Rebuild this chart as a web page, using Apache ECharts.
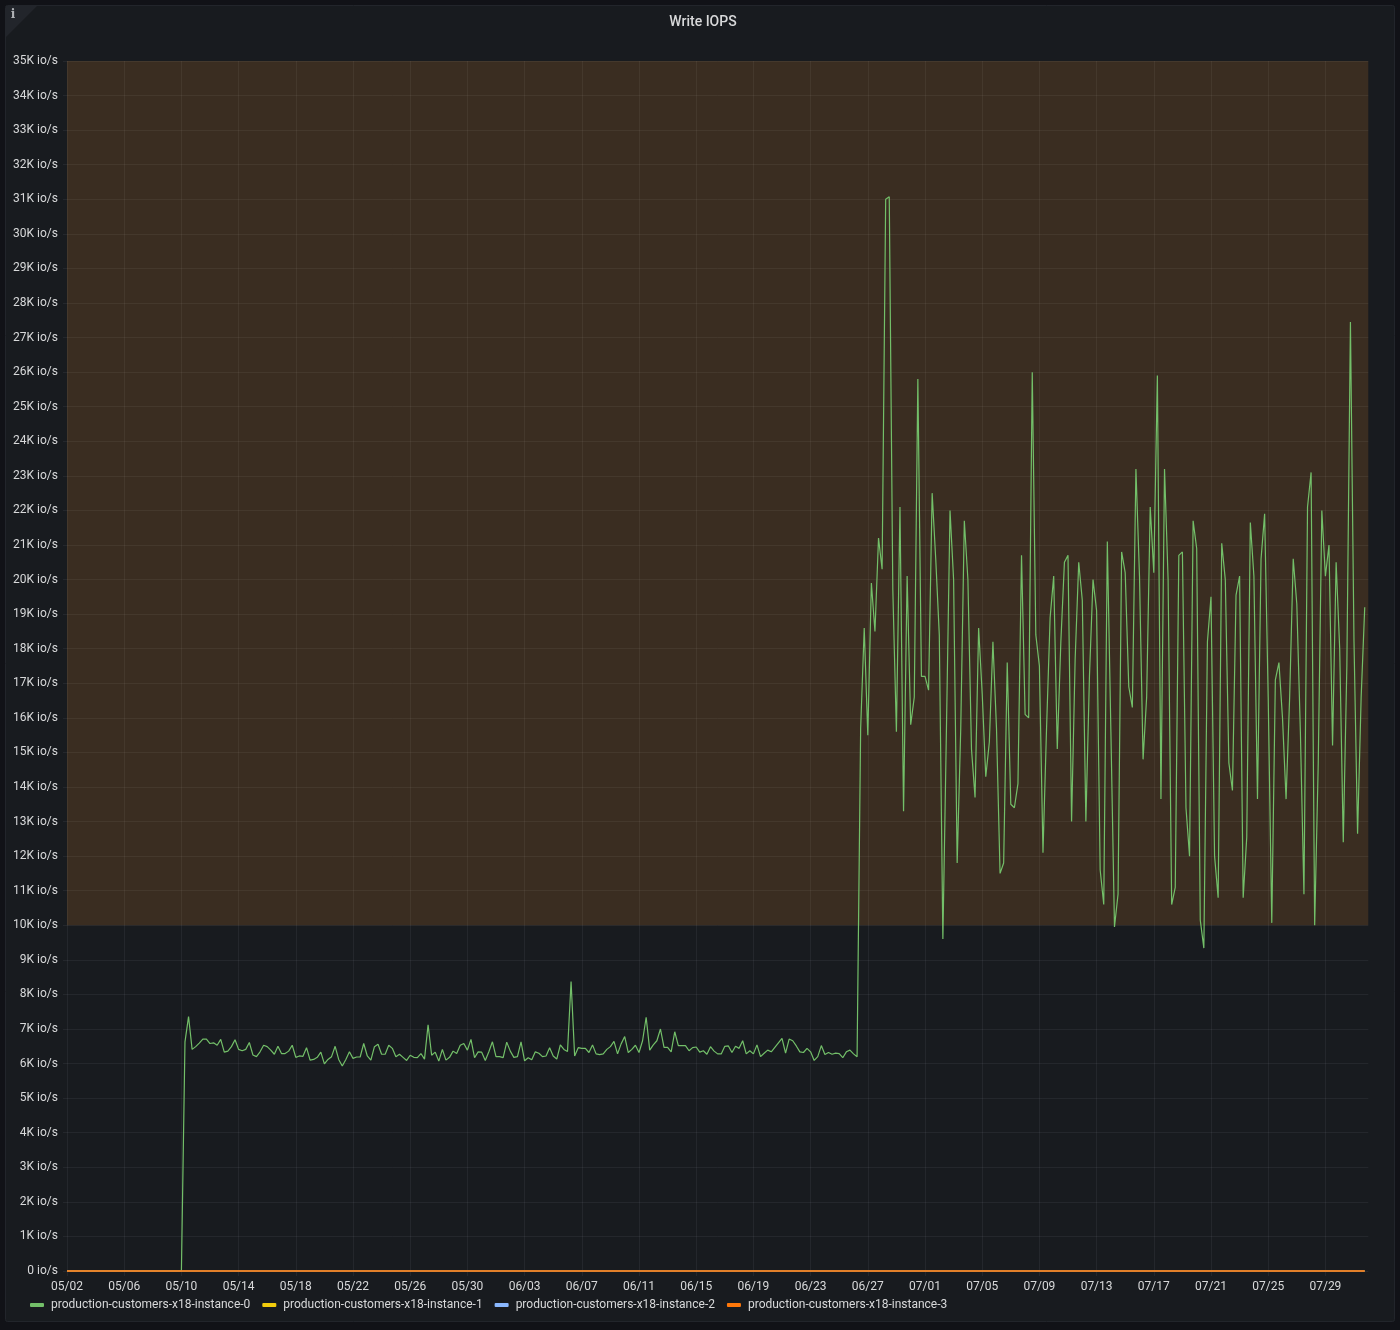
<!DOCTYPE html>
<html>
<head>
    <meta charset="utf-8">
    <title>Write IOPS</title>
    <script src="https://cdn.jsdelivr.net/npm/echarts@6/dist/echarts.min.js"></script>
    <style>
        html, body { margin: 0; padding: 0; background: #111217; }
        #chart { width: 1400px; height: 1330px; }
    </style>
</head>
<body>
<div id="chart"></div>
<script>
    var seriesNames = [
        'production-customers-x18-instance-0',
        'production-customers-x18-instance-1',
        'production-customers-x18-instance-2',
        'production-customers-x18-instance-3'
    ];
    var seriesColors = ['#73BF69', '#F2CC0C', '#8AB8FF', '#FF780A'];

    // one sample every 6 hours, starting 05/02 00:00
    var instance0 = [
        0,0,0,0,0,0,0,0,0,0,0,0,0,0,0,0,0,0,0,0,0,0,0,0,0,0,0,0,0,0,0,0,0,
        // 05/10 to 06/26
        6630,7360,6410,6490,6590,6710,6710,6580,6600,6530,
        6700,6330,6360,6490,6690,6410,6370,6410,6610,6250,
        6200,6340,6530,6490,6390,6270,6500,6290,6290,6360,
        6530,6180,6220,6210,6460,6100,6120,6180,6330,5990,
        6120,6200,6500,6120,5930,6120,6340,6150,6190,6190,
        6580,6220,6100,6490,6560,6270,6270,6530,6440,6200,
        6270,6180,6090,6240,6180,6170,6290,6130,7120,6240,
        6330,6070,6410,6100,6180,6360,6290,6530,6580,6390,
        6700,6170,6340,6330,6090,6340,6630,6200,6200,6170,
        6620,6360,6180,6200,
        6630,6080,6170,6110,6340,6300,6200,6220,6460,6220,
        6130,6540,6410,6350,8370,6220,6460,6440,6440,6320,
        6540,6280,6260,6280,6410,6490,6640,6280,6570,6780,
        6320,6410,6530,6320,6660,7340,6390,6540,6660,7000,
        6470,6470,6340,6920,6520,6520,6520,6370,6460,6480,
        6330,6370,6270,6490,6360,6280,6280,6500,6510,6320,
        6500,6440,6660,6280,6370,6280,6540,6200,6300,6390,
        6340,6470,6600,6730,6300,6710,6660,6510,6340,6320,
        6440,6340,6090,6200,6520,6260,6320,6270,6300,6290,
        6170,6340,6390,6280,6200,
        // 06/26 to the end
        15700,18600,15500,19900,18500,21200,20300,31000,31070,19700,
        15600,22100,13300,20100,15800,16600,25800,17200,17200,16800,
        22500,20600,18400,9600,15700,22000,20000,11800,15700,21700,
        20000,15100,13700,18600,16700,14300,15300,18200,15700,11500,
        11800,17600,13500,13400,14100,20700,16100,16000,26000,18400,
        17500,12100,15700,18900,20100,15100,18200,20500,20700,13000,
        17700,20500,19400,13000,17200,20000,19100,11600,10600,21100,
        15600,9950,10900,20800,20200,16900,16300,23200,20100,14800,
        16600,22100,20200,25900,13650,23200,20000,10600,11100,20700,
        20800,13400,12000,21700,20900,10150,9340,18200,19500,12000,
        10800,21050,20000,14700,13900,19550,20100,10800,12550,21650,
        20100,13650,20600,21900,16600,10070,17100,17600,16000,13650,
        16600,20600,19300,15600,10900,22100,23100,10000,14700,22000,
        20100,21000,15200,20500,18000,12400,17500,27450,18200,12650,
        16600,19200
    ];

    // instances 1, 2 and 3 stay on the zero line the whole time
    var flatInstance = [
        0,0,0,0,0,0,0,0,0,0,0,0,0,0,0,0,0,0,0,0,
        0,0,0,0,0,0,0,0,0,0,0,0,0,0,0,0,0,0,0,0,
        0,0,0,0,0,0,0,0,0,0,0,0,0,0,0,0,0,0,0,0,
        0,0,0,0,0,0,0,0,0,0,0,0,0,0,0,0,0,0,0,0,
        0,0,0,0,0,0,0,0,0,0,0,0,0,0,0,0,0,0,0,0,
        0,0,0,0,0,0,0,0,0,0,0,0,0,0,0,0,0,0,0,0,
        0,0,0,0,0,0,0,0,0,0,0,0,0,0,0,0,0,0,0,0,
        0,0,0,0,0,0,0,0,0,0,0,0,0,0,0,0,0,0,0,0,
        0,0,0,0,0,0,0,0,0,0,0,0,0,0,0,0,0,0,0,0,
        0,0,0,0,0,0,0,0,0,0,0,0,0,0,0,0,0,0,0,0,
        0,0,0,0,0,0,0,0,0,0,0,0,0,0,0,0,0,0,0,0,
        0,0,0,0,0,0,0,0,0,0,0,0,0,0,0,0,0,0,0,0,
        0,0,0,0,0,0,0,0,0,0,0,0,0,0,0,0,0,0,0,0,
        0,0,0,0,0,0,0,0,0,0,0,0,0,0,0,0,0,0,0,0,
        0,0,0,0,0,0,0,0,0,0,0,0,0,0,0,0,0,0,0,0,
        0,0,0,0,0,0,0,0,0,0,0,0,0,0,0,0,0,0,0,0,
        0,0,0,0,0,0,0,0,0,0,0,0,0,0,0,0,0,0,0,0,
        0,0,0,0,0,0,0,0,0,0,0,0,0,0,0,0,0,0,0,0,
        0,0,0,0
    ];

    var thresholdLow = 10000;
    var thresholdHigh = 35000;

    // 6 hourly slots, one more than the data so the line stops short of the edge
    var categories = [];
    for (var i = 0; i <= instance0.length; i++) {
        var d = new Date(Date.UTC(2021, 4, 2, i * 6));
        var mm = ('0' + (d.getUTCMonth() + 1)).slice(-2);
        var dd = ('0' + d.getUTCDate()).slice(-2);
        categories.push(mm + '/' + dd);
    }

    var fontName = 'Roboto, "Liberation Sans", sans-serif';
    var gridColor = 'rgba(204,204,220,0.07)';
    var textColor = '#d8d9da';

    var seriesValues = [instance0, flatInstance, flatInstance, flatInstance];
    var series = seriesNames.map(function (name, idx) {
        var s = {
            name: name,
            type: 'line',
            data: seriesValues[idx],
            showSymbol: false,
            smooth: false,
            clip: false,
            // the last instance sits on top of the zero line, so it gets the visible stroke
            lineStyle: { width: idx === 3 ? 1.5 : 1.2, color: seriesColors[idx] },
            itemStyle: { color: seriesColors[idx] }
        };
        if (idx === 0) {
            s.markArea = {
                silent: true,
                itemStyle: { color: 'rgba(255,152,48,0.15)' },
                data: [[{ yAxis: thresholdLow }, { yAxis: thresholdHigh }]]
            };
        }
        return s;
    });

    var myChart = echarts.init(document.getElementById('chart'));
    myChart.setOption({
        animation: false,
        backgroundColor: '#111217',
        textStyle: { fontFamily: fontName },
        graphic: [
            {
                type: 'rect',
                z: -10,
                shape: { x: 5.5, y: 5.5, width: 1389, height: 1316, r: 2 },
                style: { fill: '#181b1f', stroke: '#22252b', lineWidth: 1 }
            },
            {
                type: 'polygon',
                z: -9,
                shape: { points: [[6, 6], [37, 6], [6, 37]] },
                style: { fill: '#22252b' }
            },
            {
                type: 'text',
                z: -8,
                x: 13,
                y: 15,
                style: {
                    text: 'i',
                    fill: '#b0b2b6',
                    font: 'bold 12px "DejaVu Serif", serif',
                    align: 'center',
                    verticalAlign: 'middle'
                }
            }
        ],
        title: {
            text: 'Write IOPS',
            left: 698,
            top: 10,
            textAlign: 'center',
            textStyle: { color: '#d8d9da', fontSize: 14, fontWeight: 500, fontFamily: fontName }
        },
        grid: { left: 67, right: 31.7, top: 61, bottom: 59 },
        legend: {
            left: 30,
            top: 1299,
            icon: 'roundRect',
            itemWidth: 14,
            itemHeight: 4,
            itemGap: 12,
            padding: 0,
            data: seriesNames,
            textStyle: { color: textColor, fontSize: 12, padding: [0, 0, 0, 2], fontFamily: fontName }
        },
        xAxis: {
            type: 'category',
            boundaryGap: false,
            data: categories,
            axisLine: { show: false },
            axisTick: { show: true, interval: 15, length: 5, lineStyle: { color: gridColor } },
            axisLabel: { interval: 15, color: textColor, fontSize: 12, margin: 10, fontFamily: fontName },
            splitLine: { show: true, interval: 15, lineStyle: { color: gridColor, width: 1 } }
        },
        yAxis: {
            type: 'value',
            min: 0,
            max: 35000,
            interval: 1000,
            axisLine: { show: false },
            axisTick: { show: true, length: 4, lineStyle: { color: gridColor } },
            axisLabel: {
                color: textColor,
                fontSize: 12,
                margin: 9,
                padding: [2, 0, 0, 0],
                fontFamily: fontName,
                formatter: function (v) {
                    return v === 0 ? '0 io/s' : (v / 1000) + 'K io/s';
                }
            },
            splitLine: { show: true, lineStyle: { color: gridColor, width: 1 } }
        },
        series: series
    });
</script>
</body>
</html>
